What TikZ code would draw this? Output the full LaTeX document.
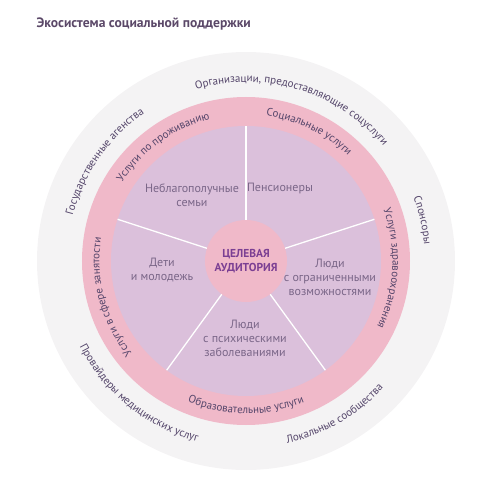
\documentclass[tikz,border=0pt]{standalone}
\usepackage{fontspec}
\setmainfont{PT Sans}
\usetikzlibrary{decorations.text}
\definecolor{outerring}{HTML}{F4F3F4}
\definecolor{pinkring}{HTML}{F0B9C9}
\definecolor{lavender}{HTML}{DBC0DB}
\definecolor{ringtxt}{HTML}{54456A}
\definecolor{segtxt}{HTML}{7A6688}
\definecolor{coretxt}{HTML}{7B3F93}
\definecolor{titletxt}{HTML}{5B4868}
\newcommand{\lblfont}{\fontsize{11}{13}\selectfont}
% ring labels: #1 radius, #2 middle angle, #3 half span, #4 text
\newcommand{\cwlabel}[4]{%
  \path[decorate,decoration={text along path,text align=center,
    text color=ringtxt,text={|\lblfont|#4}}]
    ({#2+#3}:#1) arc[start angle={#2+#3},end angle={#2-#3},radius=#1];}
\newcommand{\ccwlabel}[4]{%
  \path[decorate,decoration={text along path,text align=center,
    text color=ringtxt,text={|\lblfont|#4}}]
    ({#2-#3}:#1) arc[start angle={#2-#3},end angle={#2+#3},radius=#1];}

\begin{document}
\begin{tikzpicture}[x=1pt,y=1pt,
  seglabel/.style={align=center,text=segtxt,font=\fontsize{12}{14}\selectfont},
  divider/.style={draw=white,line width=1.3pt}]
  \useasboundingbox (-246,-237) rectangle (252,261);
  \node[anchor=west,text=titletxt,font=\bfseries\fontsize{13.6}{16}\selectfont]
    (title) at (-213,237) {Экосистема социальной поддержки};
  % rings
  \fill[outerring] (0,0) circle[radius=209];
  \fill[pinkring] (0,0) circle[radius=164];
  \fill[lavender] (0,0) circle[radius=135];
  \foreach \a in {18,90,162,234,306}
    \draw[divider] (\a:41) -- (\a:135);
  \node[circle,fill=pinkring,minimum size=82pt,inner sep=0pt,align=center,
    text=coretxt,font=\bfseries\fontsize{11.5}{14}\selectfont]
    (aud) at (0,0) {ЦЕЛЕВАЯ\\АУДИТОРИЯ};
  % target groups
  \node[seglabel] (fam) at (-54,66) {Неблагополучные\\семьи};
  \node[seglabel] (pens) at (34,73) {Пенсионеры};
  \node[seglabel] (dis) at (84,-16) {Люди\\с ограниченными\\возможностями};
  \node[seglabel] (ment) at (-1,-77) {Люди\\с психическими\\заболеваниями};
  \node[seglabel] (youth) at (-84,-9) {Дети\\и молодежь};
  % services
  \cwlabel{146.5}{126}{60}{Услуги по проживанию}
  \cwlabel{146.5}{64}{60}{Социальные услуги}
  \cwlabel{146.5}{-3}{60}{Услуги здравоохранения}
  \ccwlabel{152.5}{270}{60}{Образовательные услуги}
  \cwlabel{146.5}{195}{60}{Услуги в сфере занятости}
  % partners
  \cwlabel{179}{73}{75}{Организации, предоставляющие соцуслуги}
  \cwlabel{179}{145}{60}{Государственные агенства}
  \cwlabel{179}{13}{40}{Спонсоры}
  \ccwlabel{187}{231}{70}{Провайдеры медицинских услуг}
  \ccwlabel{187}{300}{60}{Локальные сообщества}
\end{tikzpicture}
\end{document}
